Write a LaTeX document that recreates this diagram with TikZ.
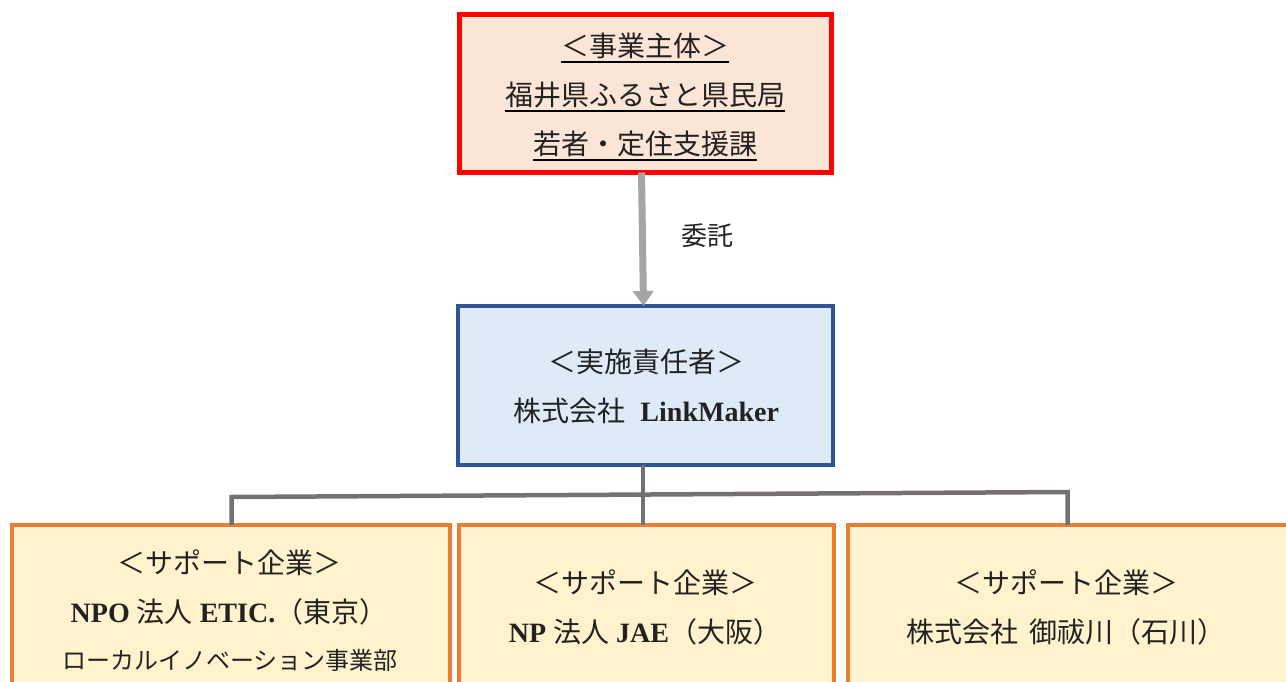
\documentclass[tikz,border=0pt]{standalone}
\usepackage{fontspec}
\setmainfont{Liberation Serif}
\newfontfamily\cjk{Noto Sans CJK JP}
\usetikzlibrary{arrows.meta}
\definecolor{redline}{HTML}{FF0000}
\definecolor{redfill}{HTML}{FBE5D6}
\definecolor{blueline}{HTML}{2F5597}
\definecolor{bluefill}{HTML}{DEEBF7}
\definecolor{orline}{HTML}{ED7D31}
\definecolor{orfill}{HTML}{FFF2CC}
\definecolor{connc}{HTML}{767171}
\definecolor{arrc}{HTML}{A5A5A5}
\definecolor{txt}{HTML}{222222}
\newcommand\J[1]{{\cjk #1}}
\newcommand\E[1]{{\bfseries #1}}
\newcommand\ulx[1]{\setbox0\hbox{#1}\rlap{\color{black}\rule[-6pt]{\wd0}{2pt}}\box0}
\tikzset{
  box/.style={draw, rectangle, inner sep=0pt, outer sep=0pt},
  redbox/.style={box, draw=redline, fill=redfill, line width=5pt},
  bluebox/.style={box, draw=blueline, fill=bluefill, line width=4pt},
  orbox/.style={box, draw=orline, fill=orfill, line width=4pt},
  txtnode/.style={align=center, inner sep=0pt, text=txt, font=\fontsize{28}{49}\selectfont},
  smalltxt/.style={align=center, inner sep=0pt, text=txt, font=\fontsize{24}{30}\selectfont},
  conn/.style={draw=connc, line width=4.5pt},
  arr/.style={draw=arrc, line width=7pt, -{Triangle[width=20pt,length=15pt]}},
}
\begin{document}
\begin{tikzpicture}[x=1pt,y=-1pt]
\useasboundingbox (0,0) rectangle (1286,681);
\clip (0,0) rectangle (1286,681);
% boxes
\node[redbox, minimum width=372pt, minimum height=158pt] (top) at (645.5,93.5) {};
\node[bluebox, minimum width=375pt, minimum height=159pt] (mid) at (645.5,385.5) {};
\node[orbox, minimum width=438pt, minimum height=175pt] (b1) at (231,612.5) {};
\node[orbox, minimum width=375pt, minimum height=175pt] (b2) at (646.5,612.5) {};
\node[orbox, minimum width=452pt, minimum height=175pt] (b3) at (1074,612.5) {};
% texts
\node[txtnode] (ttop) at (645,97) {\ulx{\J{＜事業主体＞}}\\\ulx{\J{福井県ふるさと県民局}}\\\ulx{\J{若者・定住支援課}}};
\node[txtnode] (tmid) at (646,386) {\J{＜実施責任者＞}\\\J{株式会社}\hspace{0.55em}\E{LinkMaker}};
\node[txtnode] (t1) at (229,587) {\J{＜サポート企業＞}\\\E{NPO} \J{法人} \E{ETIC.}\J{（東京）}};
\node[smalltxt] (t1b) at (230,660) {\J{ローカルイノベーション事業部}};
\node[txtnode] (t2) at (645,607) {\J{＜サポート企業＞}\\\E{NP} \J{法人} \E{JAE}\J{（大阪）}};
\node[txtnode] (t3) at (1066,607) {\J{＜サポート企業＞}\\\J{株式会社}\hspace{0.4em}\J{御祓川（石川）}};
% arrow
\draw[arr] ([xshift=-4pt]top.south) -- ([xshift=-2pt]mid.north);
\node[txtnode, font=\fontsize{26}{30}\selectfont] (itaku) at (707,236) {\J{委託}};
% connectors
\coordinate (hl) at (231.5,497);
\coordinate (hr) at (1067.5,492);
\draw[conn] ([xshift=-2.5pt]mid.south) -- ([xshift=-3.5pt]b2.north);
\draw[conn] (b1.north -| hl) -- (hl) -- (hr) -- (b3.north -| hr);
\end{tikzpicture}
\end{document}
